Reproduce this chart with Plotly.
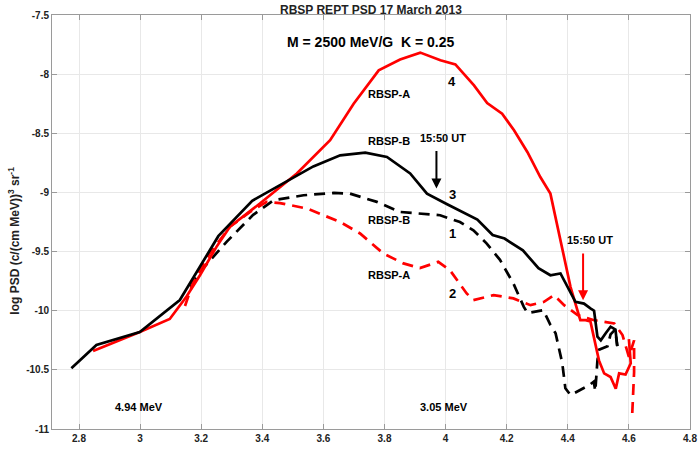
import plotly.graph_objects as go

# Curve 3: RBSP-B (solid black)
b_solid_L = [2.775, 2.857, 2.999, 3.13, 3.256, 3.367, 3.567, 3.655, 3.737, 3.808, 3.884, 3.939,
             4.005, 4.104, 4.154, 4.193, 4.253, 4.304, 4.343, 4.376, 4.425, 4.453, 4.474, 4.486,
             4.497, 4.508, 4.524, 4.54, 4.556, 4.562]
b_solid_v = [-10.487, -10.29, -10.18, -9.91, -9.37, -9.07, -8.78, -8.686, -8.663, -8.70, -8.84, -9.01,
             -9.10, -9.23, -9.36, -9.39, -9.49, -9.64, -9.70, -9.685, -9.925, -9.94, -9.98, -10.0,
             -10.22, -10.25, -10.19, -10.135, -10.16, -10.30]

# Curve 4: RBSP-A (solid red)
a_solid_L = [2.846, 2.999, 3.097, 3.152, 3.196, 3.25, 3.294, 3.392, 3.513, 3.622, 3.699, 3.781,
             3.851, 3.917, 3.983, 4.032, 4.093, 4.136, 4.185, 4.224, 4.268, 4.31, 4.343, 4.376,
             4.409, 4.441, 4.458, 4.474, 4.486, 4.502, 4.519, 4.54, 4.557, 4.568, 4.589, 4.606, 4.60]
a_solid_v = [-10.34, -10.18, -10.07, -9.88, -9.70, -9.46, -9.29, -9.094, -8.84, -8.559, -8.25, -7.968,
             -7.877, -7.818, -7.883, -7.917, -8.095, -8.244, -8.334, -8.475, -8.66, -8.87, -9.01, -9.40,
             -9.80, -10.08, -10.08, -10.09, -10.22, -10.42, -10.53, -10.56, -10.66, -10.53, -10.54, -10.445, -10.24]

# Curve 1: RBSP-B (dashed black)
b_dash_L = [3.165, 3.196, 3.283, 3.37, 3.437, 3.535, 3.634, 3.687, 3.775, 3.851, 3.982, 4.047,
            4.091, 4.134, 4.178, 4.222, 4.256, 4.268, 4.32, 4.343, 4.36, 4.382, 4.392, 4.409,
            4.47, 4.485, 4.49, 4.497, 4.502, 4.53, 4.54, 4.555, 4.562]
b_dash_v = [-9.80, -9.67, -9.418, -9.19, -9.066, -9.024, -9.004, -9.01, -9.08, -9.165, -9.193, -9.25,
            -9.32, -9.43, -9.57, -9.77, -9.967, -10.02, -9.995, -10.12, -10.19, -10.445, -10.656, -10.713,
            -10.63, -10.60, -10.68, -10.42, -10.33, -10.30, -10.20, -10.16, -10.30]

# Curve 2: RBSP-A (dashed red)
a_dash_L = [3.147, 3.174, 3.228, 3.294, 3.36, 3.414, 3.458, 3.546, 3.655, 3.72, 3.796, 3.862,
            3.916, 3.976, 4.014, 4.069, 4.091, 4.157, 4.222, 4.278, 4.322, 4.355, 4.388, 4.432,
            4.486, 4.53, 4.552, 4.579, 4.60, 4.617, 4.617, 4.611]
a_dash_v = [-9.96, -9.756, -9.516, -9.29, -9.165, -9.08, -9.09, -9.136, -9.25, -9.347, -9.516, -9.60,
            -9.64, -9.587, -9.657, -9.854, -9.91, -9.868, -9.896, -9.953, -9.925, -9.868, -9.953, -10.037,
            -10.08, -10.094, -10.107, -10.206, -10.39, -10.25, -10.52, -10.867]

x_ticks = [2.8, 3.0, 3.2, 3.4, 3.6, 3.8, 4.0, 4.2, 4.4, 4.6, 4.8]
x_tick_text = ["2.8", "3", "3.2", "3.4", "3.6", "3.8", "4", "4.2", "4.4", "4.6", "4.8"]
y_ticks = [-11, -10.5, -10, -9.5, -9, -8.5, -8, -7.5]
y_tick_text = ["-11", "-10.5", "-10", "-9.5", "-9", "-8.5", "-8", "-7.5"]

FONT = "Liberation Sans, Arial, Helvetica, sans-serif"
LW = 2.7

fig = go.Figure()
fig.add_trace(go.Scatter(x=b_dash_L, y=b_dash_v, mode="lines",
                         line=dict(color="black", width=LW, dash="11px,7px"), showlegend=False))
fig.add_trace(go.Scatter(x=a_dash_L, y=a_dash_v, mode="lines",
                         line=dict(color="#ff0000", width=LW, dash="11px,7px"), showlegend=False))
fig.add_trace(go.Scatter(x=a_solid_L, y=a_solid_v, mode="lines",
                         line=dict(color="#ff0000", width=LW), showlegend=False))
fig.add_trace(go.Scatter(x=b_solid_L, y=b_solid_v, mode="lines",
                         line=dict(color="black", width=LW), showlegend=False))

def txt(x, y, s, size=11, color="black"):
    fig.add_annotation(x=x, y=y, xref="x", yref="y", text=f"<b>{s}</b>", showarrow=False,
                       font=dict(family=FONT, size=size, color=color), xanchor="center", yanchor="middle")

txt(4.022, -8.058, "4", 13)
txt(3.815, -8.171, "RBSP-A")
txt(3.815, -8.568, "RBSP-B")
txt(3.991, -8.536, "15:50 UT")
txt(4.024, -9.015, "3", 13)
txt(3.815, -9.235, "RBSP-B")
txt(4.022, -9.347, "1", 13)
txt(3.815, -9.70, "RBSP-A")
txt(4.024, -9.854, "2", 13)
txt(4.472, -9.404, "15:50 UT")
txt(2.995, -10.817, "4.94 MeV")
txt(3.995, -10.812, "3.05 MeV")

# arrows
fig.add_annotation(x=3.97, y=-8.967, ax=3.97, ay=-8.638, xref="x", yref="y", axref="x", ayref="y",
                   text="", showarrow=True, arrowhead=2, arrowsize=1, arrowwidth=2, arrowcolor="black")
fig.add_annotation(x=4.45, y=-9.911, ax=4.45, ay=-9.503, xref="x", yref="y", axref="x", ayref="y",
                   text="", showarrow=True, arrowhead=2, arrowsize=1, arrowwidth=2, arrowcolor="#ff0000")

# title and subtitle
fig.add_annotation(x=0.5, y=1.0126, xref="paper", yref="paper", text="<b>RBSP REPT PSD 17 March 2013</b>",
                   showarrow=False, font=dict(family=FONT, size=12, color="#222"), yanchor="middle")
fig.add_annotation(x=0.5, y=-7.727, xref="paper", yref="y", text="<b>M = 2500 MeV/G  K = 0.25</b>",
                   showarrow=False, font=dict(family=FONT, size=14, color="black"), yanchor="middle")

# y label
fig.add_annotation(x=-0.059, y=-9.405, xref="paper", yref="y", textangle=-90,
                   text="<b>log PSD (c/(cm MeV))<sup>3</sup> sr<sup>-1</sup></b>",
                   showarrow=False, font=dict(family=FONT, size=12, color="#222"),
                   xanchor="center", yanchor="middle")
# x label
fig.add_annotation(x=3.79, y=-11.2, xref="x", yref="y", text="<b>L*</b>", showarrow=False,
                   font=dict(family=FONT, size=12, color="#222"), yanchor="middle")

axis_common = dict(showgrid=True, gridcolor="#e8e8e8", gridwidth=1, zeroline=False,
                   showline=True, linecolor="#9a9a9a", linewidth=1, mirror="ticks",
                   ticks="inside", ticklen=5, tickcolor="#9a9a9a", tickwidth=1, automargin=False,
                   tickfont=dict(family=FONT, size=10, color="#222"))

fig.update_xaxes(range=[2.7116, 4.8], tickvals=x_ticks, ticktext=[f"<b>{t}</b>" for t in x_tick_text],
                 **axis_common)
fig.update_yaxes(range=[-11, -7.5], tickvals=y_ticks, ticktext=[f"<b>{t}</b>" for t in y_tick_text],
                 **axis_common)

fig.update_layout(width=699, height=462, margin=dict(l=52, r=9, t=15, b=33, autoexpand=False),
                  paper_bgcolor="white", plot_bgcolor="white", showlegend=False)

# remove the default page margin so the figure sits at the top-left corner of the window
fig.write_html("out.html", config={"displayModeBar": False},
               post_script="document.body.style.margin='0';document.body.style.padding='0';")
